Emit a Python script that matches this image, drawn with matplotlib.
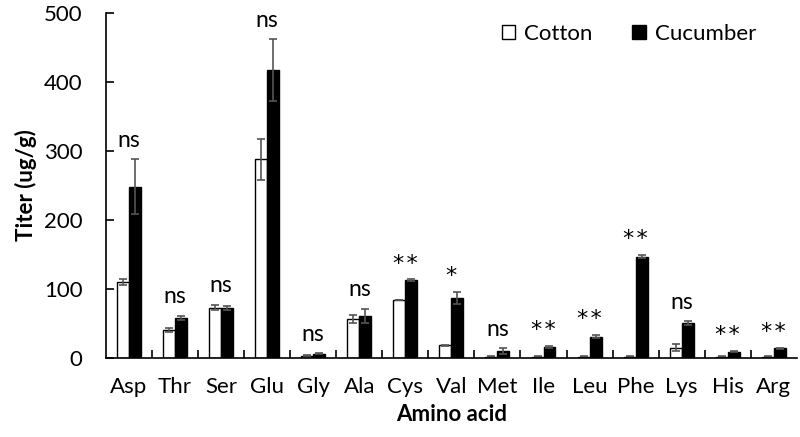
import numpy as np
from matplotlib import pyplot as plt

plt.rcParams['font.family'] = ['Lato', 'DejaVu Sans']

amino = ["Asp", "Thr", "Ser", "Glu", "Gly", "Ala", "Cys", "Val", "Met", "Ile", "Leu", "Phe", "Lys", "His", "Arg"]
cotton = [110, 40, 73, 288, 3, 56, 84, 18, 2, 2, 2, 2, 15, 2, 2]
cotton_err = [5, 3, 4, 30, 0.5, 6, 0.5, 1, 0.5, 0.5, 0.5, 0.5, 5, 0.5, 0.5]
cucumber = [248, 58, 72, 417, 6, 61, 113, 87, 10, 16, 31, 147, 50, 9, 14]
cucumber_err = [40, 3, 3, 45, 1, 10, 1, 9, 4, 1, 2, 2, 3, 1, 1]
signif = ["ns", "ns", "ns", "ns", "ns", "ns", "**", "*", "ns", "**", "**", "**", "ns", "**", "**"]

fig, ax = plt.subplots(figsize=(8, 4.37), dpi=100)
fig.subplots_adjust(left=0.1325, right=0.996, bottom=0.181, top=0.97)

x = np.arange(len(amino))
w = 0.26
ekw = dict(ecolor='#555555', elinewidth=1.2, capsize=3, capthick=1.2)
ax.bar(x - w / 2, cotton, w, yerr=cotton_err, color='white', edgecolor='black',
       linewidth=1, label='Cotton', error_kw=ekw)
ax.bar(x + w / 2, cucumber, w, yerr=cucumber_err, color='black', edgecolor='black',
       linewidth=1, label='Cucumber', error_kw=ekw)

# significance marks above each pair
for i in range(len(amino)):
    top = max(cotton[i] + cotton_err[i], cucumber[i] + cucumber_err[i])
    if signif[i] == "ns":
        ax.annotate("ns", (x[i], top), xytext=(0, 9), textcoords='offset points',
                    ha='center', va='baseline', fontsize=16.5)
    else:
        ax.annotate("\u200a".join(signif[i]), (x[i], top), xytext=(0, 7), textcoords='offset points',
                    ha='center', va='baseline', fontsize=16, family='DejaVu Sans')

ax.set_xlim(-0.5, len(amino) - 0.5)
ax.set_ylim(0, 500)
ax.set_yticks([0, 100, 200, 300, 400, 500])
ax.set_xticks(x)
ax.set_xticklabels(amino)
ax.set_xticks(np.arange(0.5, len(amino) - 0.5, 1), minor=True)
ax.tick_params(axis='x', which='major', length=0, labelsize=16, pad=14)
ax.tick_params(axis='x', which='minor', direction='in', length=6, width=1.2)
ax.tick_params(axis='y', direction='in', length=6, width=1.2, labelsize=16, pad=17)

for s in ['top', 'right']:
    ax.spines[s].set_visible(False)
for s in ['left', 'bottom']:
    ax.spines[s].set_linewidth(1.2)

ax.set_ylabel("Titer (ug/g)", fontsize=16, fontweight='bold', labelpad=5)
ax.set_xlabel("Amino acid", fontsize=16, fontweight='bold', labelpad=5)

ax.legend(loc='center right', bbox_to_anchor=(0.97, 0.94), ncol=2, frameon=False, fontsize=16,
          handlelength=0.6, handleheight=0.6, handletextpad=0.4, columnspacing=1.8)

plt.savefig("out.png")
